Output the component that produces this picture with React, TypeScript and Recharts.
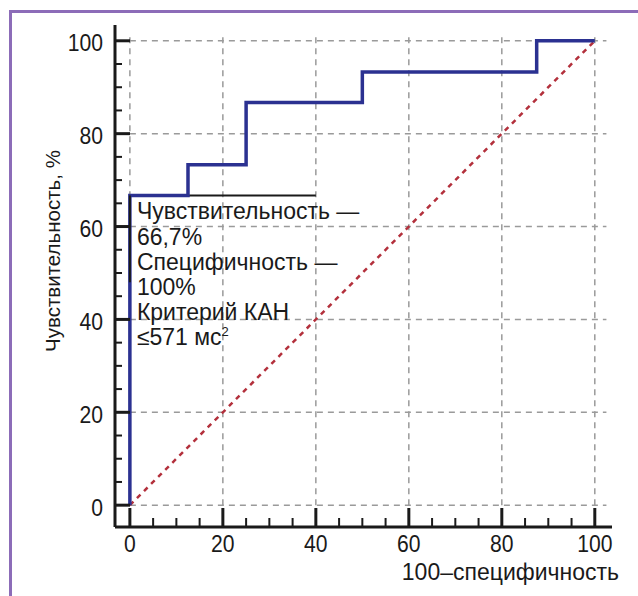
import { LineChart, Line, XAxis, YAxis, Label } from 'recharts';

// axis ticks (minor every 5, labelled every 20)
const xTicks = [0, 5, 10, 15, 20, 25, 30, 35, 40, 45, 50, 55, 60, 65, 70, 75, 80, 85, 90, 95, 100];
const yTicks = [0, 5, 10, 15, 20, 25, 30, 35, 40, 45, 50, 55, 60, 65, 70, 75, 80, 85, 90, 95, 100];
const majorTicks = [0, 20, 40, 60, 80, 100];

// ROC curve: 100 - specificity vs sensitivity
const rocX = [0, 0, 12.5, 25, 50, 87.5, 100];
const rocY = [0, 66.7, 73.3, 86.7, 93.3, 100, 100];

// reference (chance) diagonal
const chanceX = [0, 100];
const chanceY = [0, 100];

// bracket marking the cut-off point
const cutTopX = [0, 40];
const cutTopY = [66.7, 66.7];
const cutSideX = [0, 0];
const cutSideY = [66.7, 48];

const noteLines = ['Чувствительность —', '66,7%', 'Специфичность —', '100%', 'Критерий КАН', '≤571 мс'];
const noteSup = '2';

const yTitle = 'Чувствительность, %';
const xTitle = '100–специфичность';

const font = "'Liberation Sans', Arial, sans-serif";
const ink = '#1a1a1a';
const gridColor = '#9a9a9a';

const toPoints = (xs: number[], ys: number[]) => xs.map((x, i) => ({ x, y: ys[i] }));

function XTick(props: any) {
  const { x, y, payload } = props;
  const major = majorTicks.includes(payload.value);
  return (
    <g>
      <line x1={x} x2={x} y1={y} y2={y - (major ? 19 : 9)} stroke={ink} strokeWidth={major ? 3 : 2} />
      {major && (
        <text
          transform={`translate(${x}, ${y + 25}) scale(0.92, 1)`}
          textAnchor="middle"
          fontSize={23}
          fill={ink}
          fontFamily={font}
        >
          {payload.value}
        </text>
      )}
    </g>
  );
}

function YTick(props: any) {
  const { x, y, payload } = props;
  const major = majorTicks.includes(payload.value);
  return (
    <g>
      <line x1={x} x2={x + (major ? 15 : 7)} y1={y} y2={y} stroke={ink} strokeWidth={major ? 3 : 2} />
      {major && (
        <text
          transform={`translate(${x - 12}, ${y + 10.5}) scale(0.92, 1)`}
          textAnchor="end"
          fontSize={23}
          fill={ink}
          fontFamily={font}
        >
          {payload.value}
        </text>
      )}
    </g>
  );
}

function NoteLabel(props: any) {
  const { x, y, index } = props;
  if (index !== 0) return null;
  const tx = x + 7;
  return (
    <text x={tx} y={y + 24} fontSize={23} fill={ink} fontFamily={font}>
      {noteLines.map((line, i) => (
        <tspan key={i} x={tx} dy={i === 0 ? 0 : 25.2}>
          {line}
        </tspan>
      ))}
      <tspan fontSize={13} dy={-9}>
        {noteSup}
      </tspan>
    </text>
  );
}

export default function App() {
  const gridTop = 101.8;
  const gridRight = 102.5;

  return (
    <div style={{ position: 'absolute', left: 0, top: 0, width: 638, height: 596, background: '#fff' }}>
      <div
        style={{
          position: 'absolute',
          left: 9,
          top: 10,
          width: 640,
          height: 600,
          borderTop: '3px solid #8c6cb8',
          borderLeft: '3px solid #8c6cb8',
        }}
      />
      <div style={{ position: 'absolute', left: 0, top: 0 }}>
        <LineChart width={638} height={596} margin={{ top: 25, right: 26, bottom: 9, left: 55 }}>
          <XAxis
            type="number"
            dataKey="x"
            domain={[-3.2, 103.7]}
            allowDataOverflow
            ticks={xTicks}
            interval={0}
            tickSize={0}
            tickMargin={0}
            tickLine={false}
            tick={<XTick />}
            axisLine={{ stroke: ink, strokeWidth: 3 }}
            height={60}
          >
            <Label
              content={(p: any) => {
                const vb = p.viewBox;
                return (
                  <text
                    x={vb.x + vb.width + 7}
                    y={vb.y + 53}
                    textAnchor="end"
                    fontSize={23}
                    fill={ink}
                    fontFamily={font}
                  >
                    {xTitle}
                  </text>
                );
              }}
            />
          </XAxis>
          <YAxis
            type="number"
            dataKey="y"
            domain={[-4.7, 103.4]}
            allowDataOverflow
            ticks={yTicks}
            interval={0}
            tickSize={0}
            tickMargin={0}
            tickLine={false}
            tick={<YTick />}
            axisLine={{ stroke: ink, strokeWidth: 3 }}
            width={60}
          >
            <Label
              content={(p: any) => {
                const vb = p.viewBox;
                const cx = vb.x - 3;
                const cy = vb.y + 226;
                return (
                  <text
                    x={cx}
                    y={cy}
                    transform={`rotate(-90, ${cx}, ${cy})`}
                    textAnchor="middle"
                    dominantBaseline="central"
                    fontSize={20.5}
                    fill={ink}
                    fontFamily={font}
                  >
                    {yTitle}
                  </text>
                );
              }}
            />
          </YAxis>

          {majorTicks.map((v) => (
            <Line
              key={`gv${v}`}
              data={toPoints([v, v], [0, gridTop])}
              dataKey="y"
              stroke={gridColor}
              strokeWidth={1.5}
              strokeDasharray="6 5"
              dot={false}
              activeDot={false}
              isAnimationActive={false}
            />
          ))}
          {majorTicks.map((v) => (
            <Line
              key={`gh${v}`}
              data={toPoints([0, gridRight], [v, v])}
              dataKey="y"
              stroke={gridColor}
              strokeWidth={1.5}
              strokeDasharray="6 5"
              dot={false}
              activeDot={false}
              isAnimationActive={false}
            />
          ))}

          <Line
            data={toPoints(chanceX, chanceY)}
            dataKey="y"
            stroke="#b3303c"
            strokeWidth={2.5}
            strokeDasharray="5 5"
            dot={false}
            activeDot={false}
            isAnimationActive={false}
          />
          <Line
            data={toPoints(cutTopX, cutTopY)}
            dataKey="y"
            stroke={ink}
            strokeWidth={2}
            dot={false}
            activeDot={false}
            label={<NoteLabel />}
            isAnimationActive={false}
          />
          <Line
            data={toPoints(rocX, rocY)}
            dataKey="y"
            type="stepAfter"
            stroke="#2b3191"
            strokeWidth={3.5}
            strokeLinejoin="miter"
            dot={false}
            activeDot={false}
            isAnimationActive={false}
          />
          <Line
            data={toPoints(cutSideX, cutSideY)}
            dataKey="y"
            stroke={ink}
            strokeWidth={2}
            dot={false}
            activeDot={false}
            isAnimationActive={false}
          />
        </LineChart>
      </div>
    </div>
  );
}
